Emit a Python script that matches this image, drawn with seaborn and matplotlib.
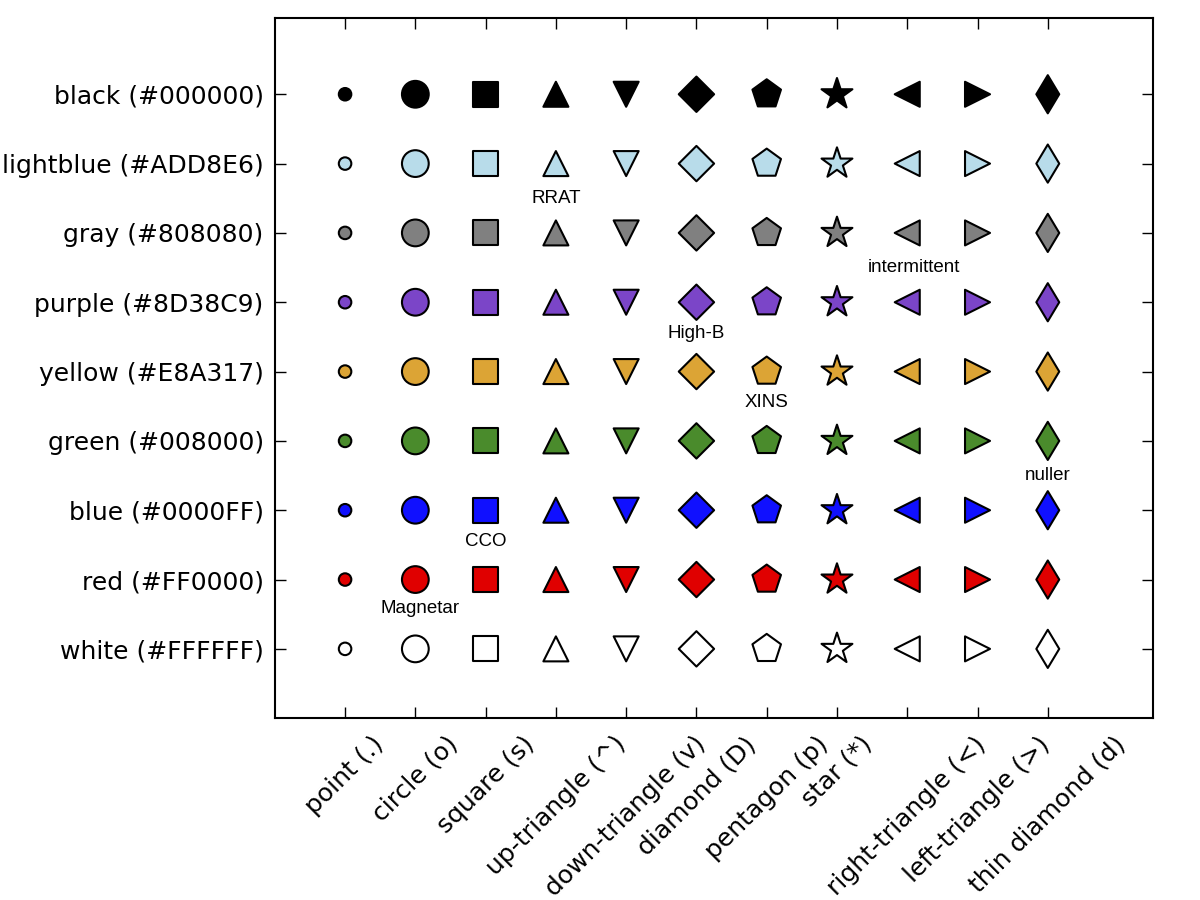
import matplotlib
matplotlib.use("Agg")
import matplotlib.pyplot as plt
import seaborn as sns
import pandas as pd

# ---- data ----
color_names = ['black', 'lightblue', 'gray', 'purple', 'yellow', 'green', 'blue', 'red', 'white']
color_hex_labels = ['#000000', '#ADD8E6', '#808080', '#8D38C9', '#E8A317', '#008000', '#0000FF', '#FF0000', '#FFFFFF']
fill_colors = ['#000000', '#B8DCEA', '#808080', '#7B45C8', '#DCA435', '#4A8B2C', '#1010FF', '#E00000', '#FFFFFF']
row_values = [8, 7, 6, 5, 4, 3, 2, 1, 0]

marker_codes = ['.', 'o', 's', '^', 'v', 'D', 'p', '*', '<', '>', 'd']
marker_names = ['point', 'circle', 'square', 'up-triangle', 'down-triangle', 'diamond',
                'pentagon', 'star', 'right-triangle', 'left-triangle', 'thin diamond']
col_values = [0, 1, 2, 3, 4, 5, 6, 7, 8, 9, 10]

ann_texts = ['RRAT', 'intermittent', 'High-B', 'XINS', 'nuller', 'CCO', 'Magnetar']
ann_x = [3, 8.1, 5, 6, 10, 2, 1.07]
ann_y = [6.5, 5.5, 4.55, 3.55, 2.5, 1.55, 0.58]

# ---- style ----
sns.set_style('white')
plt.rcParams['font.family'] = ['DejaVu Sans']
plt.rcParams['text.color'] = 'black'
plt.rcParams['xtick.color'] = 'black'
plt.rcParams['ytick.color'] = 'black'
plt.rcParams['xtick.labelcolor'] = 'black'
plt.rcParams['ytick.labelcolor'] = 'black'

fig = plt.figure(figsize=(12, 9), dpi=100)
ax = fig.add_axes([0.229, 0.202, 0.732, 0.778])

palette = dict(zip(color_names, fill_colors))
ms = 18
size_scale = {'.': 1.0, 'o': 1.07, 's': 1.0, '^': 1.0, 'v': 1.0, 'D': 1.0,
              'p': 1.2, '*': 1.3, '<': 1.0, '>': 1.0, 'd': 1.08}
for xi, m in zip(col_values, marker_codes):
    df = pd.DataFrame({'x': [xi] * len(color_names), 'y': row_values, 'c': color_names})
    sns.scatterplot(data=df, x='x', y='y', hue='c', palette=palette, marker=m,
                    s=(ms * size_scale[m]) ** 2, edgecolor='black', linewidth=1.5,
                    legend=False, ax=ax, zorder=3, clip_on=False)

for t, x, y in zip(ann_texts, ann_x, ann_y):
    ax.text(x, y, t, ha='center', va='center', fontsize=13.5,
            family='Liberation Sans', color='black')

ax.set_xlim(-1, 11.5)
ax.set_ylim(-1, 9.1)
ax.set_xticks(col_values)
ax.set_xticklabels([f'{n} ({m})' for n, m in zip(marker_names, marker_codes)],
                   rotation=45, ha='center', fontsize=18)
ax.set_yticks(row_values)
ax.set_yticklabels([f'{n} ({h})' for n, h in zip(color_names, color_hex_labels)], fontsize=18)
ax.set_xlabel('')
ax.set_ylabel('')
ax.tick_params(direction='in', length=8, width=1, top=True, right=True,
               bottom=True, left=True, color='black', labelcolor='black')
ax.tick_params(axis='y', pad=8)
ax.tick_params(axis='x', pad=10)
for s in ax.spines.values():
    s.set_linewidth(1.5)
    s.set_color('black')
    s.set_visible(True)

fig.savefig('out.png', dpi=100)
